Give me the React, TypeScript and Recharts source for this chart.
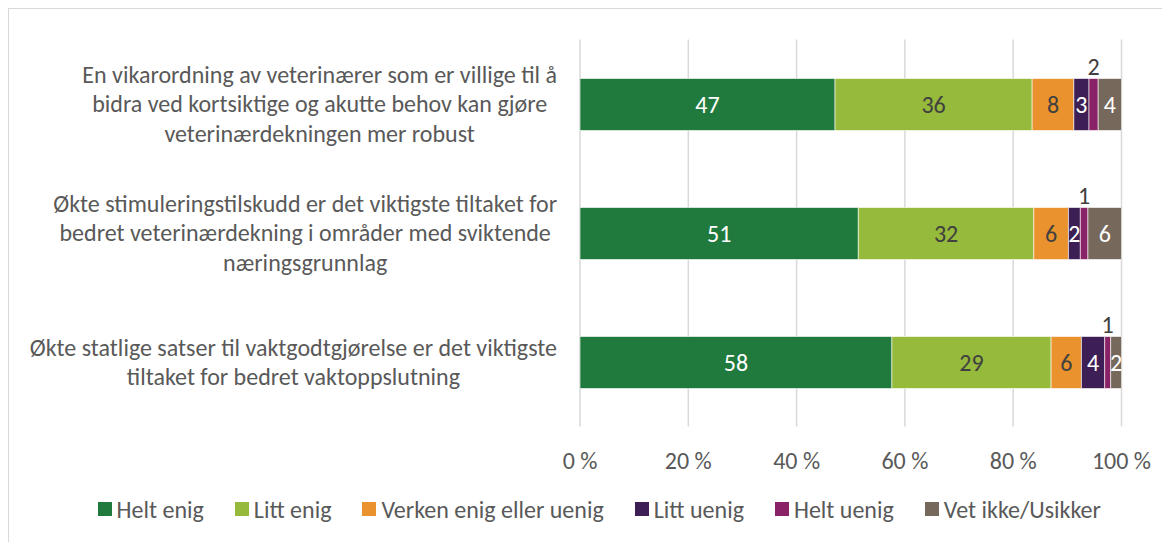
import React from 'react';
import { BarChart, Bar, XAxis, YAxis, CartesianGrid, Legend, LabelList } from 'recharts';

const categoryLines: string[][] = [
  ['En vikarordning av veterinærer som er villige til å', 'bidra ved kortsiktige og akutte behov kan gjøre', 'veterinærdekningen mer robust'],
  ['Økte stimuleringstilskudd er det viktigste tiltaket for', 'bedret veterinærdekning i områder med sviktende', 'næringsgrunnlag'],
  ['Økte statlige satser til vaktgodtgjørelse er det viktigste', 'tiltaket for bedret vaktoppslutning'],
];
const categories = categoryLines.map((l) => l.join(' '));

const heltEnig = [47.1, 51.4, 57.6];
const littEnig = [36.4, 32.4, 29.4];
const verken = [7.7, 6.4, 5.6];
const littUenig = [2.8, 2.2, 4.3];
const heltUenig = [1.7, 1.4, 1.1];
const vetIkke = [4.3, 6.2, 2.0];

const xTicks = [0, 20, 40, 60, 80, 100];

const seriesNames = ['Helt enig', 'Litt enig', 'Verken enig eller uenig', 'Litt uenig', 'Helt uenig', 'Vet ikke/Usikker'];
const seriesKeys = ['heltEnig', 'littEnig', 'verken', 'littUenig', 'heltUenig', 'vetIkke'];
const seriesColors = ['#217A3D', '#96BA3B', '#EA922D', '#3D1F55', '#8A2268', '#76695B'];
const labelColors = ['#ffffff', '#404040', '#404040', '#ffffff', '#404040', '#ffffff'];

const data = categories.map((c, i) => ({
  category: c,
  heltEnig: heltEnig[i],
  littEnig: littEnig[i],
  verken: verken[i],
  littUenig: littUenig[i],
  heltUenig: heltUenig[i],
  vetIkke: vetIkke[i],
}));

const FONT = "Carlito, 'Open Sans', sans-serif";
const TICK_FS = 24;
const LINE_H = 29.5;
const TEXT_COLOR = '#595959';

let ctx: CanvasRenderingContext2D | null = null;
function measure(t: string): number {
  if (!ctx) {
    const c = document.createElement('canvas');
    ctx = c.getContext('2d');
  }
  if (!ctx) return t.length * TICK_FS * 0.45;
  ctx.font = `${TICK_FS}px ${FONT}`;
  return ctx.measureText(t).width;
}

const CategoryTick = (props: any) => {
  const { x, y, payload } = props;
  const idx = categories.indexOf(payload.value);
  const lines = idx >= 0 ? categoryLines[idx] : [String(payload.value)];
  const maxW = Math.max(...lines.map(measure));
  const cx = x - maxW / 2;
  const startY = y - ((lines.length - 1) * LINE_H) / 2;
  return (
    <text x={cx} y={startY} textAnchor="middle" fill={TEXT_COLOR} fontSize={TICK_FS} fontFamily={FONT}>
      {lines.map((l, i) => (
        <tspan key={i} x={cx} y={startY + i * LINE_H} dy="0.35em">
          {l}
        </tspan>
      ))}
    </text>
  );
};

const renderLegend = () => (
  <div
    style={{
      display: 'flex',
      justifyContent: 'center',
      alignItems: 'center',
      height: 40,
      gap: 31,
      paddingLeft: 68,
      fontFamily: FONT,
      fontSize: 24,
      color: TEXT_COLOR,
    }}
  >
    {seriesNames.map((n, i) => (
      <div key={n} style={{ display: 'flex', alignItems: 'center' }}>
        <span style={{ display: 'inline-block', width: 14, height: 14, background: seriesColors[i], marginRight: 5 }} />
        <span>{n}</span>
      </div>
    ))}
  </div>
);

export default function App() {
  return (
    <div style={{ width: 1158, height: 540, border: '1px solid #d9d9d9', background: '#fff' }}>
      <BarChart
        width={1158}
        height={530}
        data={data}
        layout="vertical"
        margin={{ top: 30.5, right: 45.5, bottom: 10, left: 0 }}
        barSize={52}
      >
        <CartesianGrid horizontal={false} vertical={true} stroke="#d9d9d9" strokeWidth={1.5} />
        <XAxis
          type="number"
          domain={[0, 100]}
          ticks={xTicks}
          tickFormatter={(v: number) => `${v} %`}
          axisLine={false}
          tickLine={false}
          tickMargin={19}
          height={62.5}
          tick={{ fill: TEXT_COLOR, fontSize: 24, fontFamily: FONT }}
          allowDataOverflow
        />
        <YAxis
          type="category"
          dataKey="category"
          width={571}
          axisLine={false}
          tickLine={false}
          tickSize={0}
          tickMargin={23}
          tick={<CategoryTick />}
          interval={0}
        />
        <Legend verticalAlign="bottom" content={renderLegend} />
        {seriesKeys.map((k, i) => (
          <Bar key={k} dataKey={k} name={seriesNames[i]} stackId="a" fill={seriesColors[i]} stroke="#ffffff" strokeWidth={0.6} isAnimationActive={false}>
            <LabelList
              dataKey={k}
              position={k === 'heltUenig' ? 'top' : 'center'}
              offset={4}
              formatter={(v: any) => Math.round(Number(v))}
              fill={labelColors[i]}
              fontSize={24}
              fontFamily={FONT}
            />
          </Bar>
        ))}
      </BarChart>
    </div>
  );
}
